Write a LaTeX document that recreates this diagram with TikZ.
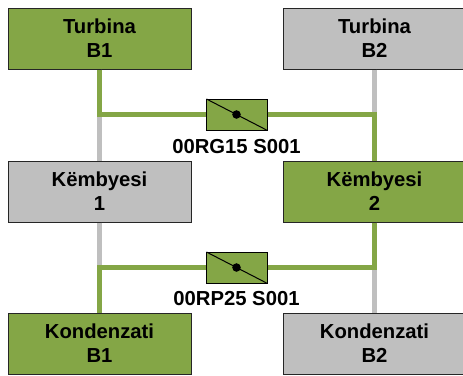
\documentclass[tikz,border=0pt]{standalone}
\usepackage{fontspec}
\setmainfont{Liberation Sans}
\definecolor{activegreen}{HTML}{84A646}
\definecolor{idlegrey}{HTML}{BFBFBF}
\definecolor{edgedark}{HTML}{262626}
\tikzset{
  unitbox/.style={draw=edgedark, line width=0.75pt, minimum width=137.25pt, minimum height=45.75pt,
    inner sep=0pt, align=center},
  unitgreen/.style={unitbox, fill=activegreen},
  unitgrey/.style={unitbox, fill=idlegrey},
  switchbox/.style={draw=black, line width=0.75pt, fill=activegreen, minimum width=45.75pt,
    minimum height=23.25pt, inner sep=0pt},
  bladeline/.style={line width=0.75pt, shorten <=0.8pt, shorten >=0.8pt},
  taglabel/.style={inner sep=0pt},
  pipegreen/.style={draw=activegreen, line width=3.75pt},
  pipegrey/.style={draw=idlegrey, line width=3.75pt}
}
\begin{document}
\begin{tikzpicture}[x=0.75pt, y=-0.75pt, font=\fontsize{15.2}{18}\selectfont\bfseries]
  % pixel coordinates, y runs downwards
  \useasboundingbox (0,0) rectangle (463,375);
  % ---------------------------------------------------------------- units
  \node[unitgreen] (turbineA) at (99.5,38.5) {Turbina\\B1};
  \node[unitgrey] (turbineB) at (374.5,38.5) {Turbina\\B2};
  \node[unitgrey] (pumpA) at (99.5,191.5) {Këmbyesi\\1};
  \node[unitgreen] (pumpB) at (374.5,191.5) {Këmbyesi\\2};
  \node[unitgreen] (condA) at (99.5,343.5) {Kondenzati\\B1};
  \node[unitgrey] (condB) at (374.5,343.5) {Kondenzati\\B2};
  % ---------------------------------------------------------------- switches
  \node[switchbox] (switchUp) at (236.5,114.5) {};
  \node[switchbox] (switchLow) at (236.5,267.5) {};
  \node[taglabel] (tagUp) at (236.5,147) {00RG15 S001};
  \node[taglabel] (tagLow) at (236.5,299) {00RP25 S001};
  % ---------------------------------------------------------------- idle lines
  \draw[pipegrey] (turbineA) -- (pumpA);
  \draw[pipegrey] (pumpA) -- (condA);
  \draw[pipegrey] (turbineB) -- (pumpB);
  \draw[pipegrey] (pumpB) -- (condB);
  % ---------------------------------------------------------------- active lines
  \draw[pipegreen] (turbineA.south) |- (switchUp.west);
  \draw[pipegreen] (switchUp.east) -| (pumpB.north);
  \draw[pipegreen] (condA.north) |- (switchLow.west);
  \draw[pipegreen] (switchLow.east) -| (pumpB.south);
  % diagonal blade and pivot of each switch
  \draw[bladeline] (switchUp.north west) -- (switchUp.south east);
  \fill (switchUp.center) circle (3.2pt);
  \draw[bladeline] (switchLow.north west) -- (switchLow.south east);
  \fill (switchLow.center) circle (3.2pt);
\end{tikzpicture}
\end{document}
